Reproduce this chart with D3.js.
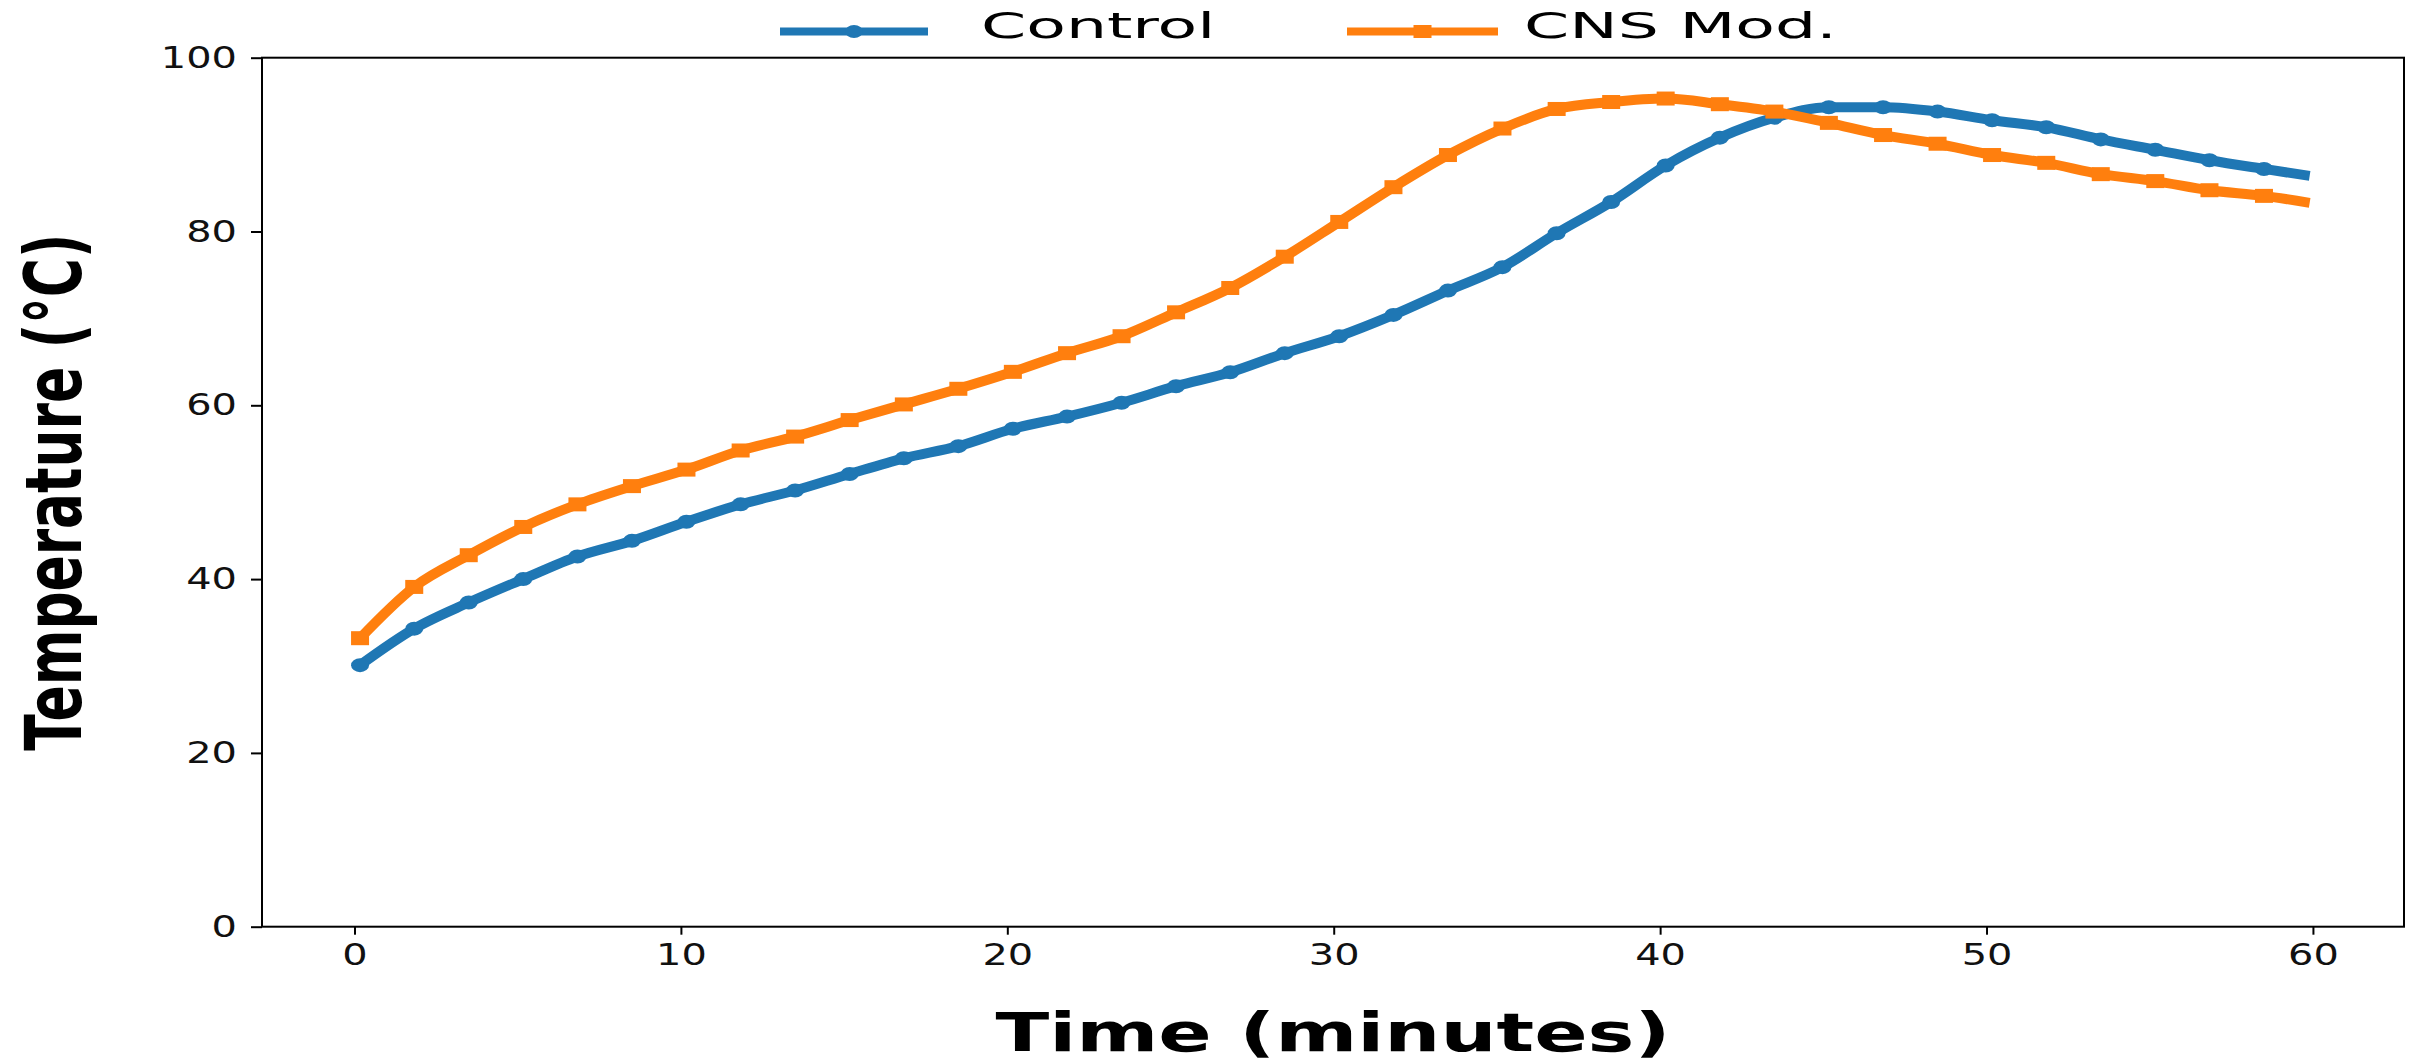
<!DOCTYPE html>
<html>
<head>
<meta charset="utf-8">
<script src="https://cdn.jsdelivr.net/npm/d3@7"></script>
<style>
  html, body { margin: 0; padding: 0; background: #fff; }
  svg { display: block; }
</style>
</head>
<body>
<div id="chart"></div>
<script>
const w = 2427;
const h = 1064;

// time in minutes (one reading per marker, last one is the end of the run)
const timeMin = [0.17, 1.83, 3.5, 5.17, 6.83, 8.5, 10.17, 11.83, 13.5, 15.17, 16.83, 18.5,
  20.17, 21.83, 23.5, 25.17, 26.83, 28.5, 30.17, 31.83, 33.5, 35.17, 36.83, 38.5,
  40.17, 41.83, 43.5, 45.17, 46.83, 48.5, 50.17, 51.83, 53.5, 55.17, 56.83, 58.5, 59.9];
const controlTemp = [30.1, 34.3, 37.3, 40.0, 42.6, 44.4, 46.6, 48.6, 50.2, 52.1, 53.9, 55.3,
  57.3, 58.7, 60.3, 62.2, 63.8, 66.0, 67.95, 70.4, 73.2, 75.9, 79.8, 83.4,
  87.6, 90.8, 93.1, 94.3, 94.3, 93.8, 92.8, 92.0, 90.6, 89.4, 88.2, 87.2, 86.4];
const cnsTemp = [33.2, 39.1, 42.75, 46.0, 48.6, 50.7, 52.6, 54.8, 56.4, 58.3, 60.1, 61.9,
  63.85, 66.0, 67.95, 70.7, 73.5, 77.1, 81.1, 85.1, 88.8, 91.85, 94.1, 94.9,
  95.3, 94.65, 93.8, 92.5, 91.1, 90.1, 88.8, 87.9, 86.6, 85.8, 84.75, 84.1, 83.3];
const seriesNames = ["Control", "CNS Mod."];
const seriesColors = ["#1f77b4", "#ff7f0e"];
const xTicks = [0, 10, 20, 30, 40, 50, 60];
const yTicks = [0, 20, 40, 60, 80, 100];

const box = {left: 262, right: 2404, top: 57.7, bottom: 926.7};
const stretch = 1.33; // the original picture is widened sideways

const svg = d3.select("#chart")
  .append("svg")
  .attr("width", w)
  .attr("height", h)
  .style("font-family", "'DejaVu Sans', sans-serif");

const x = d3.scaleLinear().domain([-2.834, 62.79]).range([box.left, box.right]);
const y = d3.scaleLinear().domain([0, 100]).range([box.bottom, box.top]);

// widen a text element sideways like the rest of the picture
const widen = (sel, factor) => {
  sel.each(function() {
    const len = this.getComputedTextLength();
    d3.select(this)
      .attr("textLength", len * factor)
      .attr("lengthAdjust", "spacingAndGlyphs");
  });
};

// axes
const xAxis = d3.axisBottom(x).tickValues(xTicks).tickSize(8).tickPadding(9);
const yAxis = d3.axisLeft(y).tickValues(yTicks).tickSize(11).tickPadding(14);

const gx = svg.append("g")
  .attr("transform", `translate(0, ${box.bottom})`)
  .call(xAxis);
const gy = svg.append("g")
  .attr("transform", `translate(${box.left}, 0)`)
  .call(yAxis);

[gx, gy].forEach(g => {
  g.select(".domain").remove();
  g.selectAll(".tick line").attr("stroke", "#000").attr("stroke-width", 2);
  g.selectAll(".tick text")
    .attr("fill", "#111")
    .style("font-size", "30px")
    .style("font-family", "'DejaVu Sans', sans-serif");
  widen(g.selectAll(".tick text"), stretch);
});

// frame
svg.append("rect")
  .attr("x", box.left)
  .attr("y", box.top)
  .attr("width", box.right - box.left)
  .attr("height", box.bottom - box.top)
  .attr("fill", "none")
  .attr("stroke", "#000")
  .attr("stroke-width", 2);

// lines
const series = [controlTemp, cnsTemp].map((vals, i) => ({
  name: seriesNames[i],
  color: seriesColors[i],
  points: timeMin.map((t, j) => ({t: t, v: vals[j]}))
}));

const line = d3.line()
  .x(d => x(d.t))
  .y(d => y(d.v))
  .curve(d3.curveMonotoneX);

series.forEach((s, i) => {
  svg.append("path")
    .datum(s.points)
    .attr("d", line)
    .attr("fill", "none")
    .attr("stroke", s.color)
    .attr("stroke-width", 10)
    .attr("stroke-linejoin", "round");

  const marks = s.points.slice(0, -1);
  if (i === 0) {
    svg.append("g").selectAll("ellipse")
      .data(marks)
      .enter()
      .append("ellipse")
      .attr("cx", d => x(d.t))
      .attr("cy", d => y(d.v))
      .attr("rx", 9)
      .attr("ry", 7)
      .attr("fill", s.color);
  } else {
    svg.append("g").selectAll("rect")
      .data(marks)
      .enter()
      .append("rect")
      .attr("x", d => x(d.t) - 9)
      .attr("y", d => y(d.v) - 7)
      .attr("width", 18)
      .attr("height", 14)
      .attr("fill", s.color);
  }
});

// axis titles
svg.append("text")
  .attr("x", (box.left + box.right) / 2)
  .attr("y", 1051)
  .attr("text-anchor", "middle")
  .style("font-size", "53px")
  .style("font-weight", "bold")
  .attr("fill", "#000")
  .attr("textLength", 675)
  .attr("lengthAdjust", "spacingAndGlyphs")
  .text("Time (minutes)");

svg.append("text")
  .attr("transform", `translate(81, ${(box.top + box.bottom) / 2}) rotate(-90)`)
  .attr("text-anchor", "middle")
  .style("font-size", "78px")
  .style("font-weight", "bold")
  .attr("fill", "#000")
  .attr("textLength", 517)
  .attr("lengthAdjust", "spacingAndGlyphs")
  .text("Temperature (°C)");

// legend (sits above the frame, partly cut off in the original)
const legendPos = [
  {x1: 780, x2: 928, tx: 981},
  {x1: 1347, x2: 1498, tx: 1524}
];
series.forEach((s, i) => {
  const p = legendPos[i];
  const g = svg.append("g");
  g.append("line")
    .attr("x1", p.x1).attr("x2", p.x2)
    .attr("y1", 31.5).attr("y2", 31.5)
    .attr("stroke", s.color)
    .attr("stroke-width", 8);
  const mx = (p.x1 + p.x2) / 2;
  if (i === 0) {
    g.append("ellipse").attr("cx", mx).attr("cy", 31.5).attr("rx", 9).attr("ry", 6.5).attr("fill", s.color);
  } else {
    g.append("rect").attr("x", mx - 9).attr("y", 25).attr("width", 18).attr("height", 13).attr("fill", s.color);
  }
  const t = g.append("text")
    .attr("x", p.tx)
    .attr("y", 38)
    .style("font-size", "36px")
    .attr("fill", "#000")
    .text(s.name);
  widen(t, 1.8);
});
</script>
</body>
</html>
